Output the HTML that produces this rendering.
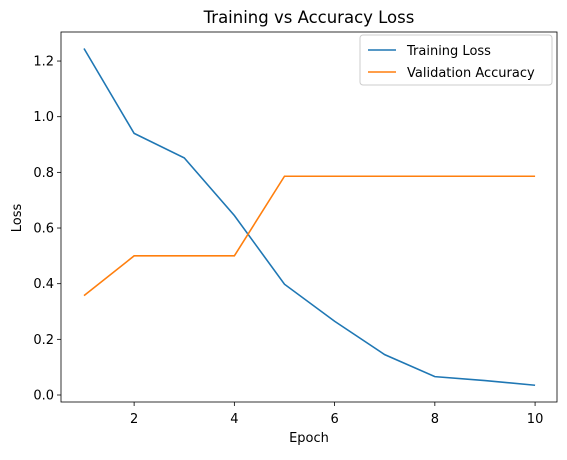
<!DOCTYPE html>
<html><head><meta charset="utf-8"><style>
body{margin:0;background:#fff;}
text{font-family:"DejaVu Sans","Liberation Sans",sans-serif;fill:#000;}
</style></head><body>
<svg id="chart" width="567" height="455" xmlns="http://www.w3.org/2000/svg">
<rect width="567" height="455" fill="#fff"/>
<text x="309" y="23" font-size="16.5" text-anchor="middle">Training vs Accuracy Loss</text>
<text x="309" y="442" font-size="13" text-anchor="middle">Epoch</text>
<text x="21" y="218" font-size="13" text-anchor="middle" transform="rotate(-90 21 218)">Loss</text>
<g id="axes"></g>
<g id="series"></g>
<g>
<rect x="360" y="35" width="192" height="50" fill="#fff" stroke="#ccc" rx="3"/>
<line x1="368" y1="50" x2="396" y2="50" stroke="#1f77b4" stroke-width="1.6"/>
<text x="407" y="55" font-size="13">Training Loss</text>
<line x1="368" y1="72" x2="396" y2="72" stroke="#ff7f0e" stroke-width="1.6"/>
<text x="407" y="77" font-size="13">Validation Accuracy</text>
</g>
</svg>
<script>
const epochs=[1,2,3,4,5,6,7,8,9,10];
const trainingLoss=[1.245,0.94,0.852,0.645,0.398,0.265,0.145,0.066,0.052,0.035];
const validationAccuracy=[0.357,0.5,0.5,0.5,0.786,0.786,0.786,0.786,0.786,0.786];
const xTicks=[2,4,6,8,10];
const yTicks=[0.0,0.2,0.4,0.6,0.8,1.0,1.2];
const L=61,R=557,T=32,B=402;
const X=v=>84+(v-1)*50.12;
const Y=v=>395-v*278.3;
const ns='http://www.w3.org/2000/svg';
const ax=document.getElementById('axes'),se=document.getElementById('series');
function mk(t,a,p){const e=document.createElementNS(ns,t);for(const k in a)e.setAttribute(k,a[k]);p.appendChild(e);return e;}
const frame=mk('rect',{x:L,y:T,width:R-L,height:B-T,fill:'none',stroke:'#000','stroke-width':0.8},ax);


xTicks.forEach(v=>{
 const l=mk('line',{x1:X(v),x2:X(v),y1:B,y2:B+4,stroke:'#000','stroke-width':0.8},ax);
 
 
 const t=mk('text',{x:X(v),y:B+21,'font-size':13,'text-anchor':'middle'},ax);t.textContent=v;
 
 
});
yTicks.forEach(v=>{
 const l=mk('line',{x1:L-4,x2:L,y1:Y(v),y2:Y(v),stroke:'#000','stroke-width':0.8},ax);
 
 
 const t=mk('text',{x:L-7,y:Y(v)+4.5,'font-size':13,'text-anchor':'end'},ax);t.textContent=v.toFixed(1);
 
 
});
function line(vals,color,name){
 const p=mk('polyline',{points:vals.map((v,i)=>X(epochs[i])+','+Y(v)).join(' '),fill:'none',stroke:color,'stroke-width':1.6},se);
 
 
}
line(trainingLoss,'#1f77b4','training-loss-line');
line(validationAccuracy,'#ff7f0e','validation-accuracy-line');
</script>
</body></html>
